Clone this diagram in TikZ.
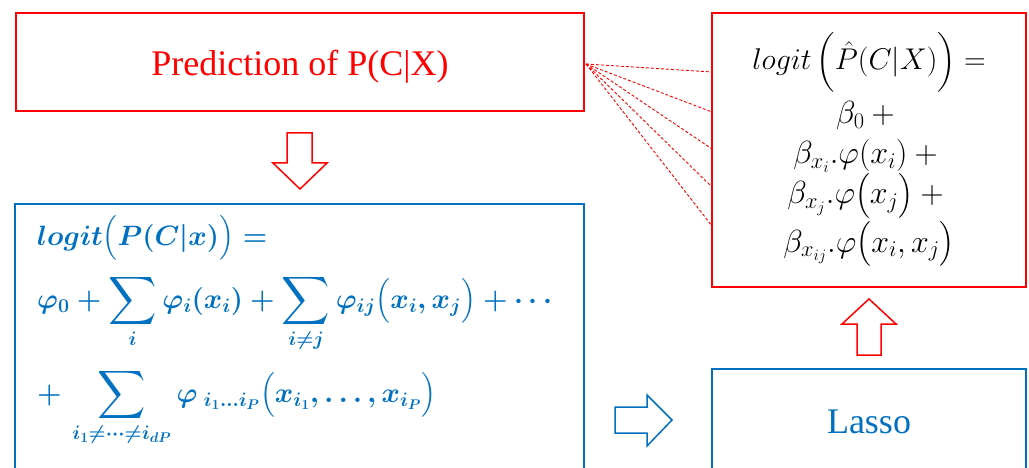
\RequirePackage{fix-cm}
\documentclass[tikz,border=0pt]{standalone}
\usepackage{amsmath}
\usepackage{graphicx}
\usepackage[no-math]{fontspec}
\setmainfont{Liberation Serif}
\definecolor{rd}{HTML}{FF0000}
\definecolor{bl}{HTML}{0070C0}
\newcommand\mybigsum{\mathop{\vcenter{\hbox{\scalebox{1.35}{$\displaystyle\sum$}}}}\limits}
\tikzset{
  redbox/.style={draw=rd, line width=2pt, rectangle, inner sep=0pt},
  bluebox/.style={draw=bl, line width=2.5pt, rectangle, inner sep=0pt},
  bigtxt/.style={font=\rmfamily\fontsize{36}{40}\selectfont, inner sep=0pt, anchor=base},
  mth/.style={font=\rmfamily\fontsize{30}{36}\selectfont, inner sep=0pt, anchor=base},
  mthb/.style={font=\rmfamily\fontsize{32}{38}\selectfont, inner sep=0pt, anchor=base},
  bmth/.style={font=\rmfamily\fontsize{28}{34}\selectfont\boldmath, inner sep=0pt, anchor=base west, text=bl},
  dashlink/.style={draw=rd, line width=0.9pt, dash pattern=on 3pt off 2pt},
  redarrow/.style={draw=rd, line width=1.5pt, fill=white, line join=miter},
  bluearrow/.style={draw=bl, line width=1.5pt, fill=white, line join=miter},
}
\begin{document}
\begin{tikzpicture}[x=1pt,y=-1pt]
\useasboundingbox (0,0) rectangle (1029,468);
\clip (0,0) rectangle (1029,468);

% top-left prediction box
\node[redbox, minimum width=568pt, minimum height=98pt] (pred) at (300,62) {};
\node[bigtxt, text=rd] (predtxt) at (300,76) {Prediction of P(C|X)};

% right model box
\node[redbox, minimum width=314pt, minimum height=274pt] (model) at (869,150) {};
\node[mth] (m1) at (869,70) {$logit\,\Big(\hat{P}(C|X)\Big) =$};
\node[mthb] (m2) at (869,124) {$\beta_0 +{}$};
\node[mthb] (m3) at (869,164) {$\beta_{x_i}.\varphi(x_i) +{}$};
\node[mthb] (m4) at (869,204) {$\beta_{x_j}.\varphi\big(x_j\big) +{}$};
\node[mthb] (m5) at (869,252) {$\beta_{x_{ij}}.\varphi\big(x_i,x_j\big)$};

% blue GAM box
\node[bluebox, minimum width=569pt, minimum height=300pt] (gam) at (299.5,354) {};
\node[bmth] (g1) at (37,245) {$logit\big(P(C|x)\big) =$};
\node[bmth] (g2) at (37,308) {$\displaystyle \varphi_0 + \mybigsum_i \varphi_i(x_i) + \mybigsum_{i\neq j}\varphi_{ij}\big(x_i,x_j\big) + \cdots$};
\node[bmth] (g3) at (37,402) {$\displaystyle +\,\mybigsum_{i_1\neq\cdots\neq i_{dP}} \varphi_{\;i_1\ldots i_P}\big(x_{i_1},\ldots,x_{i_P}\big)$};

% lasso box
\node[bluebox, minimum width=314pt, minimum height=140pt] (lasso) at (869,439) {};
\node[bigtxt, text=bl] (lassotxt) at (869,433) {Lasso};

% dashed links
\coordinate (o) at (586,64);
\coordinate (t1) at (712,72);
\coordinate (t2) at (712,112);
\coordinate (t3) at (712,149);
\coordinate (t4) at (712,187);
\coordinate (t5) at (712,226);
\foreach \k in {1,...,5} \draw[dashlink] (o) -- (t\k);

% block arrows
\draw[redarrow] (287,133) -- (312,133) -- (312,163) -- (327,163) -- (300,189) -- (273,163) -- (287,163) -- cycle;
\draw[redarrow] (857,355) -- (881,355) -- (881,324) -- (896,324) -- (869,299) -- (842,324) -- (857,324) -- cycle;
\draw[bluearrow] (615,407) -- (647,407) -- (647,395) -- (672,420) -- (647,446) -- (647,433) -- (615,433) -- cycle;
\end{tikzpicture}
\end{document}
